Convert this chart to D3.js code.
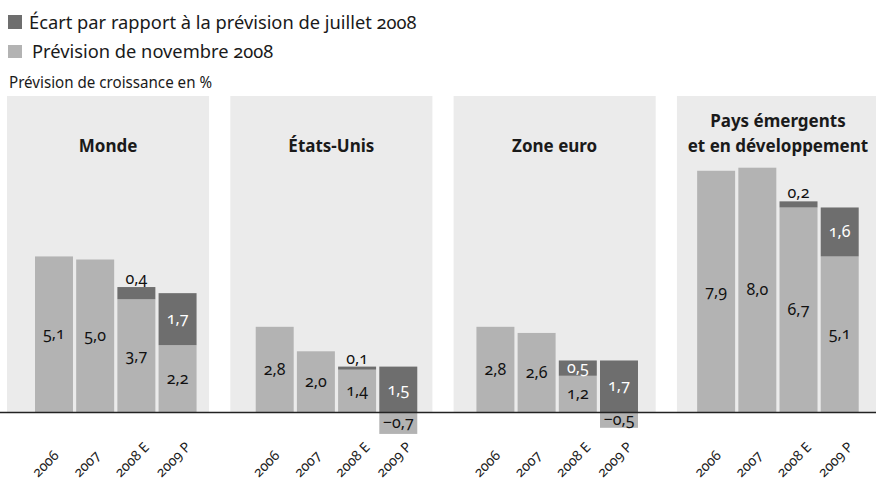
<!DOCTYPE html>
<html>
<head>
<meta charset="utf-8">
<script src="https://cdn.jsdelivr.net/npm/d3@7"></script>
<style>
  body { margin: 0; background: #fff; }
  svg { display: block; font-family: "Noto Sans", sans-serif; font-feature-settings: "onum"; }
</style>
</head>
<body>
<svg id="chart" width="876" height="485"></svg>
<script>
// data
var regions = ["Monde", "États-Unis", "Zone euro", "Pays émergents et en développement"];
var titleLines = [["Monde"], ["États-Unis"], ["Zone euro"], ["Pays émergents", "et en développement"]];
var years = ["2006", "2007", "2008 E", "2009 P"];
// Prévision de novembre 2008
var novForecast = [
  [5.1, 5.0, 3.7, 2.2],
  [2.8, 2.0, 1.4, -0.7],
  [2.8, 2.6, 1.2, -0.5],
  [7.9, 8.0, 6.7, 5.1]
];
// Écart par rapport à la prévision de juillet 2008
var gapJuly = [
  [null, null, 0.4, 1.7],
  [null, null, 0.1, 1.5],
  [null, null, 0.5, 1.7],
  [null, null, 0.2, 1.6]
];
var legendLabels = ["Écart par rapport à la prévision de juillet 2008", "Prévision de novembre 2008"];
var yTitle = "Prévision de croissance en %";

var darkCol = "#6e6e6e", lightCol = "#b3b3b3", panelCol = "#ebebeb";
var svg = d3.select("#chart");

var y = d3.scaleLinear().domain([0, 8]).range([412.5, 167.7]);
var panelX = d3.scaleBand().domain(regions).range([7, 879]).paddingInner(0.095);
var groupX = d3.scaleBand().domain(regions).range([35, 858.7]).paddingInner(0.268);
var barX = d3.scaleBand().domain(years).range([0, groupX.bandwidth()]).paddingInner(0.078);

function fmt(v) { return v.toFixed(1).replace(".", ",").replace("-", "−"); }

// legend
var legend = svg.append("g");
legend.append("rect").attr("x", 8).attr("y", 15).attr("width", 14).attr("height", 14).attr("fill", darkCol);
legend.append("text").attr("x", 29).attr("y", 29).attr("font-size", 18.3).attr("fill", "#1a1a1a").text(legendLabels[0]);
legend.append("rect").attr("x", 8).attr("y", 45).attr("width", 14).attr("height", 13).attr("fill", lightCol);
legend.append("text").attr("x", 32).attr("y", 58).attr("font-size", 18.3).attr("fill", "#1a1a1a").text(legendLabels[1]);
// condensed look for the unit title
svg.append("text").attr("x", 9).attr("y", 88).attr("font-size", 16.5)
  .attr("textLength", 203).attr("lengthAdjust", "spacingAndGlyphs")
  .attr("fill", "#1a1a1a").text(yTitle);

// panels
svg.selectAll("rect.panel").data(regions).enter().append("rect")
  .attr("class", "panel")
  .attr("x", function(d) { return panelX(d); })
  .attr("y", 96)
  .attr("width", panelX.bandwidth())
  .attr("height", y(0) - 96)
  .attr("fill", panelCol);

regions.forEach(function(r, i) {
  var t = svg.append("text")
    .attr("text-anchor", "middle")
    .attr("font-size", 17).attr("font-weight", "bold").attr("fill", "#1a1a1a");
  var lines = titleLines[i];
  lines.forEach(function(l, k) {
    t.append("tspan")
      .attr("x", panelX(r) + panelX.bandwidth() / 2)
      .attr("y", 152 - (lines.length - 1 - k) * 25)
      .text(l);
  });

  var g = svg.append("g").attr("transform", "translate(" + groupX(r) + ",0)");
  years.forEach(function(yr, j) {
    var v = novForecast[i][j];
    var gap = gapJuly[i][j];
    var x0 = barX(yr), w = barX.bandwidth();
    // light bar
    g.append("rect").attr("x", x0).attr("width", w)
      .attr("y", y(Math.max(v, 0))).attr("height", Math.abs(y(v) - y(0)))
      .attr("fill", lightCol);
    g.append("text").attr("x", x0 + w / 2).attr("y", (y(v) + y(0)) / 2 + 5)
      .attr("text-anchor", "middle").attr("font-size", 16).attr("fill", "#111")
      .text(fmt(v));
    if (gap != null) {
      var base = Math.max(v, 0);
      g.append("rect").attr("x", x0).attr("width", w)
        .attr("y", y(base + gap)).attr("height", y(base) - y(base + gap))
        .attr("fill", darkCol);
      var inside = gap >= 0.5;
      g.append("text").attr("x", x0 + w / 2)
        .attr("y", inside ? (y(base) + y(base + gap)) / 2 + 5 : y(base + gap) - 3)
        .attr("text-anchor", "middle").attr("font-size", 16)
        .attr("fill", inside ? "#fff" : "#111")
        .text(fmt(gap));
    }
    // rotated year label
    g.append("text")
      .attr("transform", "translate(" + (x0 + 3) + ",478) rotate(-45)")
      .attr("font-size", 14).attr("fill", "#1a1a1a")
      .text(yr);
  });
});

// zero line
svg.append("line").attr("x1", 0).attr("x2", 876).attr("y1", y(0)).attr("y2", y(0))
  .attr("stroke", "#222").attr("stroke-width", 1.5);
</script>
</body>
</html>
